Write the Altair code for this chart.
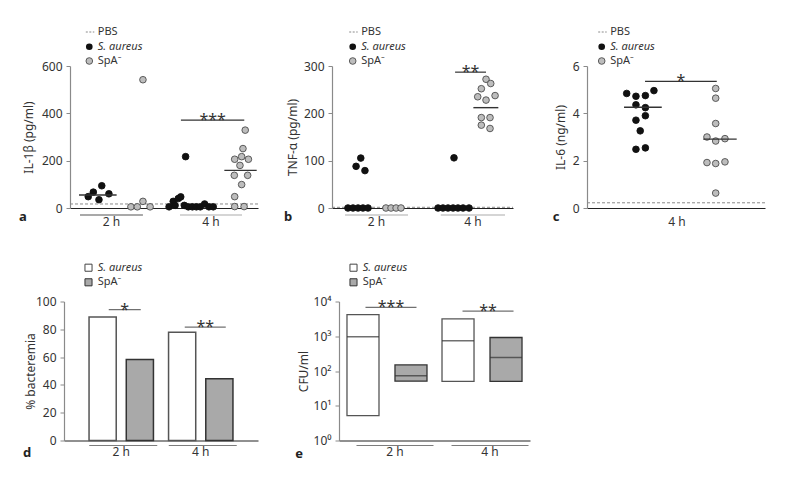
import altair as alt
import pandas as pd

SA = "S. aureus"
SP = "SpA\u207b"
TIMES = ["2 h", "4 h"]
FONT = "Noto Sans"
TXT = "#333333"

# ---------------- a: IL-1β (pg/ml) ; x = position along the axis (0-100) ----------------
A_SA2_X = [9.7, 12.4, 15.4, 16.9, 20.7]
A_SA2_Y = [48, 67, 35, 94, 60]
A_SP2_X = [32.4, 35.8, 38.8, 38.8, 42.6]
A_SP2_Y = [5, 5, 542, 28, 5]
A_SA4_X = [52.7, 54.9, 55.9, 57.6, 58.9, 60.8, 61.5, 62.9, 65.1, 67.2, 69.3, 71.6, 73.9, 76.2]
A_SA4_Y = [5, 28, 11, 40, 47, 11, 217, 5, 5, 5, 5, 17, 5, 5]
A_SP4_X = [93.2, 92.0, 87.6, 91.3, 94.9, 90.4, 87.4, 94.5, 91.3, 87.6, 87.6, 92.6]
A_SP4_Y = [329, 251, 206, 217, 206, 180, 138, 138, 99, 48, 6, 6]
A_MED_X1 = [4.8, 82.1]
A_MED_X2 = [24.8, 99.3]
A_MED_Y = [55, 159]
A_SIG = [59.0, 92.7, 371]
A_PBS = 17
A_UNDER_X1 = [5.3, 58.5]
A_UNDER_X2 = [38.8, 91.5]

# ---------------- b: TNF-α (pg/ml) ----------------
B_SA2_X = [8.8, 11.6, 14.4, 17.1, 19.9, 13.3, 15.9, 18.2]
B_SA2_Y = [0, 0, 0, 0, 0, 88, 105.5, 79]
B_SP2_X = [29.8, 32.6, 35.4, 38.1]
B_SP2_Y = [0, 0, 0, 0]
B_SA4_X = [58.6, 61.3, 64.1, 66.9, 69.6, 72.4, 75.7, 67.4]
B_SA4_Y = [0, 0, 0, 0, 0, 0, 0, 106]
B_SP4_X = [85.1, 87.7, 82.5, 80.5, 85.1, 90.1, 82.5, 87.3, 82.5, 87.3]
B_SP4_Y = [272, 263, 252, 235, 228, 237.5, 191, 191, 175, 168]
B_MED_X1 = [78.1]
B_MED_X2 = [91.9]
B_MED_Y = [212]
B_SIG = [68.0, 85.1, 287]
B_PBS = 1.5
B_UNDER_X1 = [7.2, 60.1]
B_UNDER_X2 = [42.0, 95.6]

# ---------------- c: IL-6 (ng/ml) ----------------
C_SA_X = [22.3, 27.5, 32.8, 37.6, 27.5, 32.8, 27.5, 32.8, 29.9, 27.5, 32.8]
C_SA_Y = [4.84, 4.72, 4.75, 4.96, 4.36, 4.24, 3.71, 3.90, 3.26, 2.48, 2.54]
C_SP_X = [72.3, 72.3, 72.3, 67.4, 72.3, 77.5, 67.4, 72.3, 77.5, 72.3]
C_SP_Y = [5.05, 4.64, 3.57, 3.00, 2.83, 2.93, 1.92, 1.88, 1.95, 0.63]
C_MED_X1 = [20.8, 65.3]
C_MED_X2 = [42.0, 84.1]
C_MED_Y = [4.26, 2.91]
C_SIG = [32.6, 72.9, 5.35]
C_PBS = 0.22
C_LABEL_X = [50.6]

# ---------------- d: % bacteremia ----------------
D_TIME = ["2 h", "2 h", "4 h", "4 h"]
D_STRAIN = [SA, SP, SA, SP]
D_PCT = [88.9, 58.3, 77.8, 44.4]
D_SIG_Y = [94.2, 81.5]
D_SIG_T = ["*", "**"]

# ---------------- e: CFU/ml (range and median) ----------------
E_TIME = ["2 h", "2 h", "4 h", "4 h"]
E_STRAIN = [SA, SP, SA, SP]
E_LOW = [5.2, 51, 50, 50]
E_HIGH = [4200, 150, 3170, 920]
E_MED = [960, 73, 740, 245]
E_SIG_Y = [6760, 5250]
E_SIG_T = ["***", "**"]

ONE = pd.DataFrame({"k": [0]})
LEG_FS = 11
STAR_FS = 16


def dots_df(groups):
    rows = []
    for xs, ys, strain in groups:
        for xv, yv in zip(xs, ys):
            rows.append({"x": xv, "y": yv, "strain": strain})
    return pd.DataFrame(rows)


def xq(field):
    return alt.X(field, type="quantitative",
                 scale=alt.Scale(domain=[0, 100], nice=False, zero=False),
                 axis=alt.Axis(title=None, labels=False, ticks=False, grid=False,
                               domainColor="#222222", domainWidth=1.2))


def y_enc(field, scale, ticks, title, title_x, h, expr=None):
    ax = dict(values=ticks, title=title, titleX=title_x, titleY=h / 2, titleAngle=270,
              titleAlign="center", titleBaseline="middle", tickSize=4, tickColor="#8a8a8a",
              tickWidth=1, domainColor="#8a8a8a", domainWidth=1.2, labelPadding=4, grid=False)
    if expr:
        ax["labelExpr"] = expr
    return alt.Y(field, type="quantitative", scale=scale, axis=alt.Axis(**ax))


def legend_dots(cx):
    L = [alt.Chart(ONE).mark_rule(color="#8a8a8a", strokeDash=[2, 1.5], strokeWidth=1).encode(
        x=alt.value(cx - 3.5), x2=alt.value(cx + 5), y=alt.value(-34)),
        alt.Chart(ONE).mark_circle(size=44, opacity=1, color="#111111").encode(
            x=alt.value(cx), y=alt.value(-19.3)),
        alt.Chart(ONE).mark_circle(size=44, opacity=1, fill="#bdbdbd", stroke="#4d4d4d",
                                   strokeWidth=0.9).encode(x=alt.value(cx), y=alt.value(-5))]
    for t, yy, style in [("PBS", -34, "normal"), (SA, -19.3, "italic"), (SP, -5, "normal")]:
        L.append(alt.Chart(ONE).mark_text(text=t, fontStyle=style, fontSize=LEG_FS, color=TXT,
                                          align="left", baseline="middle").encode(
            x=alt.value(cx + 8.5), y=alt.value(yy)))
    return L


def legend_squares(cx):
    L = [alt.Chart(ONE).mark_point(shape="square", filled=True, size=50, opacity=1, fill="#ffffff",
                                   stroke="#444444", strokeWidth=1).encode(x=alt.value(cx), y=alt.value(-33.8)),
         alt.Chart(ONE).mark_point(shape="square", filled=True, size=50, opacity=1, fill="#a9a9a9",
                                   stroke="#333333", strokeWidth=1).encode(x=alt.value(cx), y=alt.value(-19.2))]
    for t, yy, style in [(SA, -33.8, "italic"), (SP, -19.2, "normal")]:
        L.append(alt.Chart(ONE).mark_text(text=t, fontStyle=style, fontSize=LEG_FS, color=TXT,
                                          align="left", baseline="middle").encode(
            x=alt.value(cx + 9.2), y=alt.value(yy)))
    return L


def letter_layer(letter, lx, ly):
    return alt.Chart(ONE).mark_text(text=letter, fontSize=13, fontWeight="bold", color="#222222").encode(
        x=alt.value(lx), y=alt.value(ly))


def dot_panel(dots, med, sig, sig_text, pbs, under, cats, ydom, yticks, ytitle, title_x,
              w, h, leg_cx, letter, letter_x, extra=None):
    X = xq("x")
    Y = y_enc("y", alt.Scale(domain=ydom, nice=False, zero=False), yticks, ytitle, title_x, h)
    L = []
    L.append(alt.Chart(pd.DataFrame({"x": [0], "x2": [100], "y": [pbs]})).mark_rule(
        color="#8a8a8a", strokeDash=[3, 2], strokeWidth=1).encode(x=X, x2=alt.X2("x2"), y=Y))
    L.append(alt.Chart(dots).mark_circle(size=44, opacity=1, strokeWidth=0.9).encode(
        x=X, y=Y,
        fill=alt.Fill("strain:N", scale=alt.Scale(domain=[SA, SP], range=["#111111", "#bdbdbd"]), legend=None),
        stroke=alt.Stroke("strain:N", scale=alt.Scale(domain=[SA, SP], range=["#111111", "#4d4d4d"]), legend=None)))
    L.append(alt.Chart(med).mark_rule(color="#333333", strokeWidth=1.4).encode(x=X, x2=alt.X2("x2"), y=Y))
    sig_df = pd.DataFrame({"x": [sig[0]], "x2": [sig[1]], "xm": [(sig[0] + sig[1]) / 2],
                           "y": [sig[2]], "t": [sig_text]})
    L.append(alt.Chart(sig_df).mark_rule(color="#333333", strokeWidth=1.2).encode(x=X, x2=alt.X2("x2"), y=Y))
    L.append(alt.Chart(sig_df).mark_text(fontSize=STAR_FS, color=TXT, baseline="alphabetic", dy=5).encode(
        x=xq("xm"), y=Y, text="t:N"))
    if under is not None:
        L.append(alt.Chart(under).mark_rule(strokeWidth=1.2).encode(
            x=X, x2=alt.X2("x2"), y=alt.value(h + 7), color=alt.Color("c:N", scale=None)))
    L.append(alt.Chart(cats).mark_text(fontSize=12, color=TXT, baseline="middle").encode(
        x=xq("xm"), y=alt.value(h + 14), text="label:N"))
    L += legend_dots(leg_cx)
    L.append(letter_layer(letter, letter_x, h + 9))
    if extra is not None:
        L.append(extra)
    return alt.layer(*L).properties(width=w, height=h)


# ---------- top row ----------
HA = 142
anchor_top = alt.Chart(ONE).mark_rule(color="white", strokeWidth=1).encode(
    x=alt.value(-61.5), y=alt.value(-57.5), y2=alt.value(HA + 23.5))

pa = dot_panel(
    dots_df([(A_SA2_X, A_SA2_Y, SA), (A_SP2_X, A_SP2_Y, SP), (A_SA4_X, A_SA4_Y, SA), (A_SP4_X, A_SP4_Y, SP)]),
    pd.DataFrame({"x": A_MED_X1, "x2": A_MED_X2, "y": A_MED_Y}),
    A_SIG, "***", A_PBS,
    pd.DataFrame({"x": A_UNDER_X1, "x2": A_UNDER_X2, "c": ["#555555", "#ababab"]}),
    pd.DataFrame({"xm": [(a + b) / 2 for a, b in zip(A_UNDER_X1, A_UNDER_X2)], "label": TIMES}),
    [0, 600], [0, 200, 400, 600], "IL-1\u03b2 (pg/ml)", -42, 188, HA, 19.3, "a", -47, anchor_top)

pb = dot_panel(
    dots_df([(B_SA2_X, B_SA2_Y, SA), (B_SP2_X, B_SP2_Y, SP), (B_SA4_X, B_SA4_Y, SA), (B_SP4_X, B_SP4_Y, SP)]),
    pd.DataFrame({"x": B_MED_X1, "x2": B_MED_X2, "y": B_MED_Y}),
    B_SIG, "**", B_PBS,
    pd.DataFrame({"x": B_UNDER_X1, "x2": B_UNDER_X2, "c": ["#ababab", "#ababab"]}),
    pd.DataFrame({"xm": [(a + b) / 2 for a, b in zip(B_UNDER_X1, B_UNDER_X2)], "label": TIMES}),
    [0, 300], [0, 100, 200, 300], "TNF-\u03b1 (pg/ml)", -40, 181, HA, 20.7, "b", -44)

pc = dot_panel(
    dots_df([(C_SA_X, C_SA_Y, SA), (C_SP_X, C_SP_Y, SP)]),
    pd.DataFrame({"x": C_MED_X1, "x2": C_MED_X2, "y": C_MED_Y}),
    C_SIG, "*", C_PBS, None,
    pd.DataFrame({"xm": C_LABEL_X, "label": ["4 h"]}),
    [0, 6], [0, 2, 4, 6], "IL-6 (ng/ml)", -27, 178, HA, 14.7, "c", -31)

# ---------- bottom row ----------
HB = 139


def band_x(pi, po, label_offset=0):
    return alt.X("time:N", scale=alt.Scale(domain=TIMES, paddingInner=pi, paddingOuter=po),
                 axis=alt.Axis(title=None, labelAngle=0, ticks=False, labelPadding=6,
                               labelOffset=label_offset, domainColor="#222222", domainWidth=1.2,
                               labelColor=TXT, labelFontSize=12))


XO = alt.XOffset("strain:N", scale=alt.Scale(domain=[SA, SP], paddingInner=0.27, paddingOuter=0))
FILL_BAR = alt.Fill("strain:N", scale=alt.Scale(domain=[SA, SP], range=["#ffffff", "#a9a9a9"]), legend=None)
STROKE_BAR = alt.Stroke("strain:N", scale=alt.Scale(domain=[SA, SP], range=["#555555", "#333333"]), legend=None)

# d
XD = band_x(0.19, 0.315)
YD = y_enc("y", alt.Scale(domain=[0, 100], nice=False), [0, 20, 40, 60, 80, 100], "% bacteremia", -34, HB)
d_df = pd.DataFrame({"time": D_TIME, "strain": D_STRAIN, "y": D_PCT})
D_layers = [alt.Chart(d_df).mark_bar(strokeWidth=1.5).encode(x=XD, xOffset=XO, y=YD, fill=FILL_BAR, stroke=STROKE_BAR)]
for i, (ln, off) in enumerate([(32, 3.5), (41, 4.5)]):
    sdf = pd.DataFrame({"time": [TIMES[i]], "y": [D_SIG_Y[i]], "t": [D_SIG_T[i]]})
    D_layers.append(alt.Chart(sdf).mark_tick(orient="horizontal", size=ln, thickness=1.3, color="#333333",
                                             xOffset=off).encode(x=XD, y=YD))
    D_layers.append(alt.Chart(sdf).mark_text(fontSize=STAR_FS, color=TXT, baseline="alphabetic", dy=5, dx=off).encode(
        x=XD, y=YD, text="t:N"))
D_layers.append(alt.Chart(pd.DataFrame({"time": TIMES})).mark_tick(
    orient="horizontal", size=68, thickness=1.2, color="#444444", xOffset=2).encode(x=XD, y=alt.value(HB + 5)))
D_layers += legend_squares(24.5)
D_layers.append(letter_layer("d", -37, HB + 12))
D_layers.append(alt.Chart(ONE).mark_rule(color="white", strokeWidth=1).encode(
    x=alt.value(-55.5), y=alt.value(-59.5), y2=alt.value(0)))
pd_chart = alt.layer(*D_layers).properties(width=194, height=HB)

# e
XE = band_x(0.158, 0.084, 8)
XOE = alt.XOffset("strain:N", scale=alt.Scale(domain=[SA, SP], paddingInner=0.333, paddingOuter=0))
LOGS = alt.Scale(type="log", domain=[1, 10000], nice=False)
SUP = "'10' + ['\u2070','\u00b9','\u00b2','\u00b3','\u2074'][round(log(datum.value)/LN10)]"
YE = y_enc("y", LOGS, [1, 10, 100, 1000, 10000], "CFU/ml", -36, HB, SUP)
e_df = pd.DataFrame({"time": E_TIME, "strain": E_STRAIN, "y": E_HIGH, "low": E_LOW, "med": E_MED})
E_layers = [
    alt.Chart(e_df).mark_bar(strokeWidth=1.3).encode(x=XE, xOffset=XOE, y=YE, y2=alt.Y2("low"),
                                                      fill=FILL_BAR, stroke=STROKE_BAR),
    alt.Chart(e_df).mark_tick(orient="horizontal", size=32, thickness=1.5, color="#333333").encode(
        x=XE, xOffset=XOE, y=y_enc("med", LOGS, [1, 10, 100, 1000, 10000], "CFU/ml", -36, HB, SUP)),
]
for i, off in enumerate([4, 6]):
    sdf = pd.DataFrame({"time": [TIMES[i]], "y": [E_SIG_Y[i]], "t": [E_SIG_T[i]]})
    E_layers.append(alt.Chart(sdf).mark_tick(orient="horizontal", size=51, thickness=1.3, color="#333333",
                                             xOffset=off).encode(x=XE, y=YE))
    E_layers.append(alt.Chart(sdf).mark_text(fontSize=STAR_FS, color=TXT, baseline="alphabetic", dy=5, dx=off).encode(
        x=XE, y=YE, text="t:N"))
E_layers.append(alt.Chart(pd.DataFrame({"time": TIMES})).mark_tick(
    orient="horizontal", size=77, thickness=1.2, color="#444444", xOffset=8).encode(x=XE, y=alt.value(HB + 5)))
E_layers += legend_squares(14.5)
E_layers.append(letter_layer("e", -40, HB + 13))
pe_chart = alt.layer(*E_layers).properties(width=191, height=HB)

# top row is shifted 6 px to the right of the bottom row (spacer 1 px + 5 px spacing)
spacer = alt.Chart(ONE).mark_point(opacity=0).properties(width=1, height=1)
inner_top = alt.hconcat(pa, pb, pc, spacing=74, bounds="flush")
top_row = alt.hconcat(spacer, inner_top, spacing=5, bounds="flush")
bottom_row = alt.hconcat(pd_chart, pe_chart, spacing=81, bounds="flush").resolve_scale(
    x="independent", xOffset="independent")

chart = alt.vconcat(top_row, bottom_row, spacing=9.5).resolve_scale(
    fill="independent", stroke="independent").properties(padding=0).configure(
    font=FONT, background="white").configure_view(stroke=None).configure_axis(
    labelFont=FONT, labelFontSize=12, labelColor=TXT, titleFont=FONT, titleFontSize=12,
    titleFontWeight="normal", titleColor=TXT)

chart.save("out.html", embed_options={"renderer": "svg", "actions": False})
